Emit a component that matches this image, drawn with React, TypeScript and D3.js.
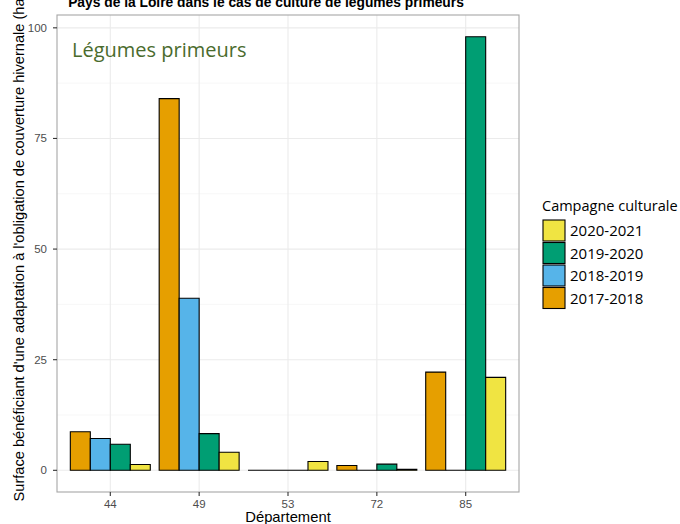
import React from "react";
import * as d3 from "d3";

const departements = ["44", "49", "53", "72", "85"];
const campagnes = ["2017-2018", "2018-2019", "2019-2020", "2020-2021"];
const colors = ["#E69F00", "#56B4E9", "#009E73", "#F0E442"];
const values2017 = [8.7, 84, 0, 1.1, 22.2];
const values2018 = [7.2, 38.9, 0, 0, 0];
const values2019 = [5.9, 8.3, 0, 1.4, 98];
const values2020 = [1.3, 4.1, 2.0, 0.25, 21];
const yTicks = [0, 25, 50, 75, 100];
const yMinor = [12.5, 37.5, 62.5, 87.5];

const W = 680;
const H = 524;
const panel = { left: 57, right: 519, top: 15, bottom: 492 };

export default function App() {
  const series = [values2017, values2018, values2019, values2020];
  const x = d3
    .scaleBand<string>()
    .domain(departements)
    .range([panel.left, panel.right])
    .paddingInner(0.1)
    .paddingOuter(0.15);
  const xInner = d3.scaleBand<string>().domain(campagnes).range([0, x.bandwidth()]).padding(0);
  const y = d3.scaleLinear().domain([-4.9, 102.9]).range([panel.bottom, panel.top]);
  const center = (d: string) => (x(d) as number) + x.bandwidth() / 2;

  const bars: React.ReactNode[] = [];
  departements.forEach((dep, i) => {
    campagnes.forEach((c, j) => {
      const v = series[j][i];
      const x0 = (x(dep) as number) + (xInner(c) as number);
      const w = xInner.bandwidth();
      const y0 = y(0);
      const y1 = y(v);
      const p = d3.path();
      p.moveTo(x0, y0);
      p.lineTo(x0 + w, y0);
      p.lineTo(x0 + w, y1);
      p.lineTo(x0, y1);
      p.closePath();
      bars.push(
        <path key={dep + c} d={p.toString()} fill={colors[j]} stroke="#000" strokeWidth={1.1} />
      );
    });
  });

  const legendOrder = [3, 2, 1, 0];

  return (
    <svg
      width={W}
      height={H}
      style={{ position: "absolute", left: 0, top: 0 }}
      fontFamily="'Liberation Sans', Arial, sans-serif"
    >
      <rect x={0} y={0} width={W} height={H} fill="#fff" />
      <text x={266} y={7} textAnchor="middle" fontWeight="bold" fontSize={13.8} fill="#000">
        Pays de la Loire dans le cas de culture de légumes primeurs
      </text>
      {/* grid */}
      {yMinor.map((t) => (
        <line key={"m" + t} x1={panel.left} x2={panel.right} y1={y(t)} y2={y(t)} stroke="#f2f2f2" strokeWidth={0.6} />
      ))}
      {yTicks.map((t) => (
        <line key={"g" + t} x1={panel.left} x2={panel.right} y1={y(t)} y2={y(t)} stroke="#ebebeb" strokeWidth={1.1} />
      ))}
      {departements.map((d) => (
        <line key={"v" + d} x1={center(d)} x2={center(d)} y1={panel.top} y2={panel.bottom} stroke="#ebebeb" strokeWidth={1.1} />
      ))}
      {bars}
      <text x={72} y={57} fontFamily="'Open Sans', sans-serif" fontSize={20} fill="#4a6b2d">
        Légumes primeurs
      </text>
      <rect
        x={panel.left}
        y={panel.top}
        width={panel.right - panel.left}
        height={panel.bottom - panel.top}
        fill="none"
        stroke="#a6a6a6"
        strokeWidth={1.1}
      />
      {/* y axis */}
      {yTicks.map((t) => (
        <g key={"yt" + t}>
          <line x1={panel.left - 4} x2={panel.left} y1={y(t)} y2={y(t)} stroke="#333" strokeWidth={1.1} />
          <text x={panel.left - 10} y={y(t) + 4} textAnchor="end" fontSize={11.5} fill="#4d4d4d">
            {t}
          </text>
        </g>
      ))}
      {/* x axis */}
      {departements.map((d) => (
        <g key={"xt" + d}>
          <line x1={center(d)} x2={center(d)} y1={panel.bottom} y2={panel.bottom + 4} stroke="#333" strokeWidth={1.1} />
          <text x={center(d)} y={508} textAnchor="middle" fontSize={11.5} fill="#4d4d4d">
            {d}
          </text>
        </g>
      ))}
      <text x={(panel.left + panel.right) / 2} y={522} textAnchor="middle" fontSize={14.8} fill="#000">
        Département
      </text>
      <text
        transform={`translate(24, ${(panel.top + panel.bottom) / 2 - 6}) rotate(-90)`}
        textAnchor="middle"
        fontSize={14.6}
        fill="#000"
      >
        Surface bénéficiant d'une adaptation à l'obligation de couverture hivernale (ha)
      </text>
      {/* legend */}
      <g fontFamily="'Open Sans', sans-serif">
        <text x={542} y={211} fontSize={14.5} fill="#000">
          Campagne culturale
        </text>
        {legendOrder.map((j, k) => (
          <g key={"lg" + j}>
            <rect x={543} y={220 + k * 22.5} width={22} height={21} fill={colors[j]} stroke="#000" strokeWidth={1.1} />
            <text x={570} y={220 + k * 22.5 + 16} fontSize={15} fill="#000">
              {campagnes[j]}
            </text>
          </g>
        ))}
      </g>
    </svg>
  );
}
